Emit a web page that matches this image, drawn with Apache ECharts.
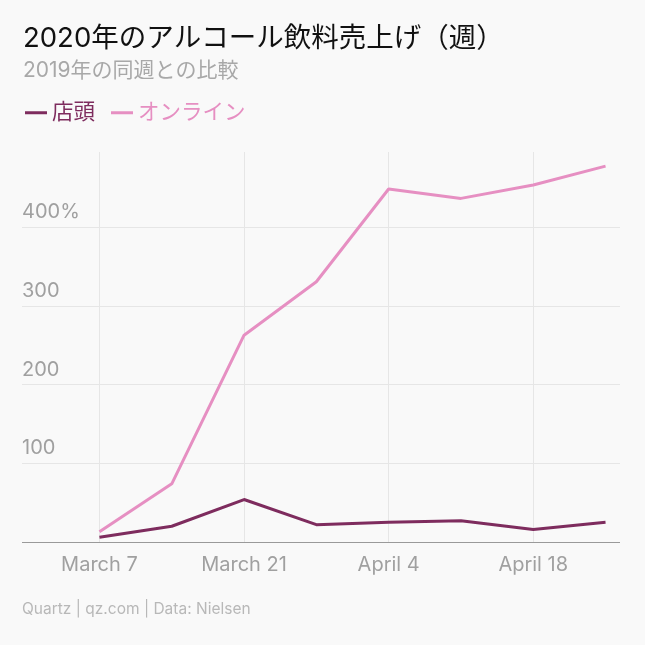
<!DOCTYPE html>
<html>
<head>
<meta charset="utf-8">
<script src="https://cdn.jsdelivr.net/npm/echarts@6/dist/echarts.min.js"></script>
<style>
  html, body { margin: 0; padding: 0; background: #f9f9f9; }
  #chart { width: 645px; height: 645px; }
</style>
</head>
<body>
<div id="chart"></div>
<script>
// Weekly alcohol sales 2020 vs same week 2019 (%)
// x = days since March 7
const weekDays = [0, 7, 14, 21, 28, 35, 42, 49];
const storeValues = [6, 20, 54, 22, 25, 27, 16, 25];
const onlineValues = [13, 74, 263, 331, 449, 437, 454, 478];
const tickDays = [0, 14, 28, 42];
const tickLabels = ['March 7', 'March 21', 'April 4', 'April 18'];

const fontFamily = 'Inter, "Noto Sans CJK JP", sans-serif';
const storeColor = '#7e2c5e';
const onlineColor = '#e68fc2';

const chart = echarts.init(document.getElementById('chart'));

chart.setOption({
    backgroundColor: '#f9f9f9',
    textStyle: { fontFamily: fontFamily },
    title: {
        text: '2020年のアルコール飲料売上げ（週）',
        subtext: '2019年の同週との比較',
        left: 18,
        top: 20,
        itemGap: 8,
        textStyle: { fontSize: 27.5, fontWeight: 'normal', color: '#111', fontFamily: fontFamily },
        subtextStyle: { fontSize: 21, color: '#a8a8a8', fontFamily: fontFamily }
    },
    legend: {
        left: 20,
        top: 97,
        itemWidth: 22,
        itemHeight: 3,
        itemGap: 16,
        icon: 'rect',
        textStyle: { fontSize: 21.5, fontFamily: fontFamily },
        data: [
            { name: '店頭', textStyle: { color: storeColor } },
            { name: 'オンライン', textStyle: { color: onlineColor } }
        ]
    },
    graphic: [{
        type: 'text',
        left: 22,
        top: 602,
        style: { text: 'Quartz | qz.com | Data: Nielsen', fill: '#b8b8b8', fontSize: 15.5, fontFamily: fontFamily }
    }],
    grid: { left: 22, right: 25, top: 152, bottom: 103 },
    xAxis: {
        type: 'value',
        min: -7.5,
        max: 50.4,
        axisLine: { show: false },
        axisTick: { show: false, customValues: tickDays },
        axisLabel: {
            customValues: tickDays,
            margin: 13,
            fontSize: 20,
            color: '#a0a0a0',
            formatter: function (v) {
                const i = tickDays.indexOf(v);
                return i >= 0 ? tickLabels[i] : '';
            }
        },
        splitLine: { show: true, lineStyle: { color: '#e6e6e6', width: 1 } }
    },
    yAxis: {
        type: 'value',
        min: 0,
        max: 496,
        interval: 100,
        axisLine: { show: false },
        axisTick: { show: false },
        axisLabel: {
            inside: true,
            margin: 0,
            verticalAlign: 'bottom',
            padding: [0, 0, 5, 0],
            fontSize: 20,
            color: '#a0a0a0',
            formatter: function (v) {
                if (v === 0 || v > 400) return '';
                return v === 400 ? v + '%' : String(v);
            }
        },
        splitLine: {
            show: true,
            lineStyle: {
                color: ['#9a9a9a', '#e6e6e6', '#e6e6e6', '#e6e6e6', '#e6e6e6', 'rgba(0,0,0,0)'],
                width: 1
            }
        }
    },
    series: [
        {
            name: '店頭',
            type: 'line',
            data: weekDays.map((d, i) => [d, storeValues[i]]),
            showSymbol: false,
            z: 3,
            color: storeColor,
            lineStyle: { width: 3, color: storeColor }
        },
        {
            name: 'オンライン',
            type: 'line',
            data: weekDays.map((d, i) => [d, onlineValues[i]]),
            showSymbol: false,
            z: 2,
            color: onlineColor,
            lineStyle: { width: 3, color: onlineColor }
        }
    ]
});
</script>
</body>
</html>
